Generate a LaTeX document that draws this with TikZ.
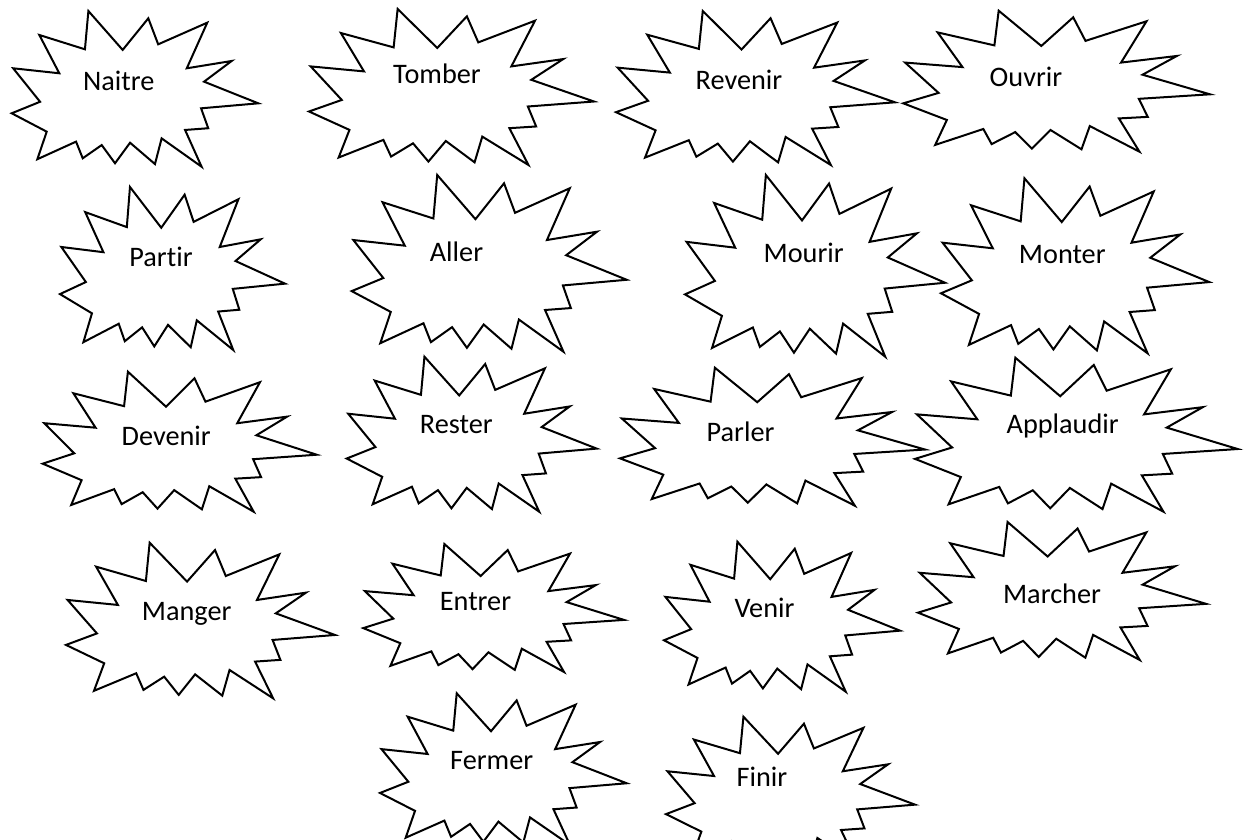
\documentclass[tikz,border=0pt]{standalone}
\usepackage{fontspec}
\setmainfont{Carlito}[Ligatures={NoCommon}]
\usepackage{tikz}
\newcommand{\explo}[4]{\draw[eclat, shift={(#1,#2)}, xscale={#3-#1}, yscale={#4-#2}]
(0.311,0) -- (0.450,0.250) -- (0.554,0.047) -- (0.594,0.214) -- (0.793,0.075) -- (0.710,0.368)
-- (0.892,0.321) -- (0.780,0.454) -- (1,0.593) -- (0.768,0.625) -- (0.797,0.753) -- (0.703,0.764)
-- (0.770,1) -- (0.608,0.818) -- (0.581,0.983) -- (0.480,0.846) -- (0.419,0.978) -- (0.365,0.861)
-- (0.288,0.946) -- (0.261,0.839) -- (0.104,0.952) -- (0.142,0.775) -- (0,0.657) -- (0.115,0.583)
-- (0.006,0.368) -- (0.193,0.400) -- (0.112,0.154) -- (0.297,0.246) -- cycle;}

\begin{document}
\begin{tikzpicture}[x=0.75pt,y=-0.75pt]
\tikzstyle{every node}=[font=\fontsize{21.2}{25}\selectfont, anchor=base, inner sep=0pt]
\tikzstyle{eclat}=[draw=black, line width=1.5pt, line join=miter]
\useasboundingbox[fill=white] (0,0) rectangle (1246,839);
\explo{11.7}{11}{258.3}{166.7}
\explo{309}{9}{594}{165}
\explo{616}{11}{895}{165}
\explo{903.3}{10.7}{1210}{151.7}
\explo{60}{187}{285}{350}
\explo{351.7}{175}{626.7}{351.7}
\explo{685}{175}{945}{356.7}
\explo{941}{178.3}{1209.3}{353.3}
\explo{42.7}{371.7}{316.7}{511.7}
\explo{346.7}{356.7}{596.7}{511.7}
\explo{620}{367.7}{925}{505.7}
\explo{915}{357.7}{1237.7}{511.7}
\explo{66}{542.7}{335}{698.3}
\explo{363.3}{544}{624}{672}
\explo{664}{541.7}{900}{691.7}
\explo{918}{522}{1206}{660}
\explo{380}{693.3}{626.7}{845}
\explo{666}{716.7}{915}{865}
\node (naitre) at (118.8,90) {Naitre};
\node (tomber) at (437,83) {Tomber};
\node (revenir) at (739,89) {Revenir};
\node (ouvrir) at (1026,86) {Ouvrir};
\node (partir) at (161,266.7) {Partir};
\node (aller) at (456.5,261) {Aller};
\node (mourir) at (803.7,262.3) {Mourir};
\node (monter) at (1062.3,263.3) {Monter};
\node (devenir) at (166.2,445) {Devenir};
\node (rester) at (456.3,433.3) {Rester};
\node (parler) at (740.5,441.7) {Parler};
\node (applaudir) at (1062.7,433.3) {Applaudir};
\node (manger) at (186.7,620.7) {Manger};
\node (entrer) at (475.5,610.7) {Entrer};
\node (venir) at (764.5,617.3) {Venir};
\node (marcher) at (1052,603) {Marcher};
\node (fermer) at (491.7,769.3) {Fermer};
\node (finir) at (762,786.7) {Finir};
\end{tikzpicture}
\end{document}
